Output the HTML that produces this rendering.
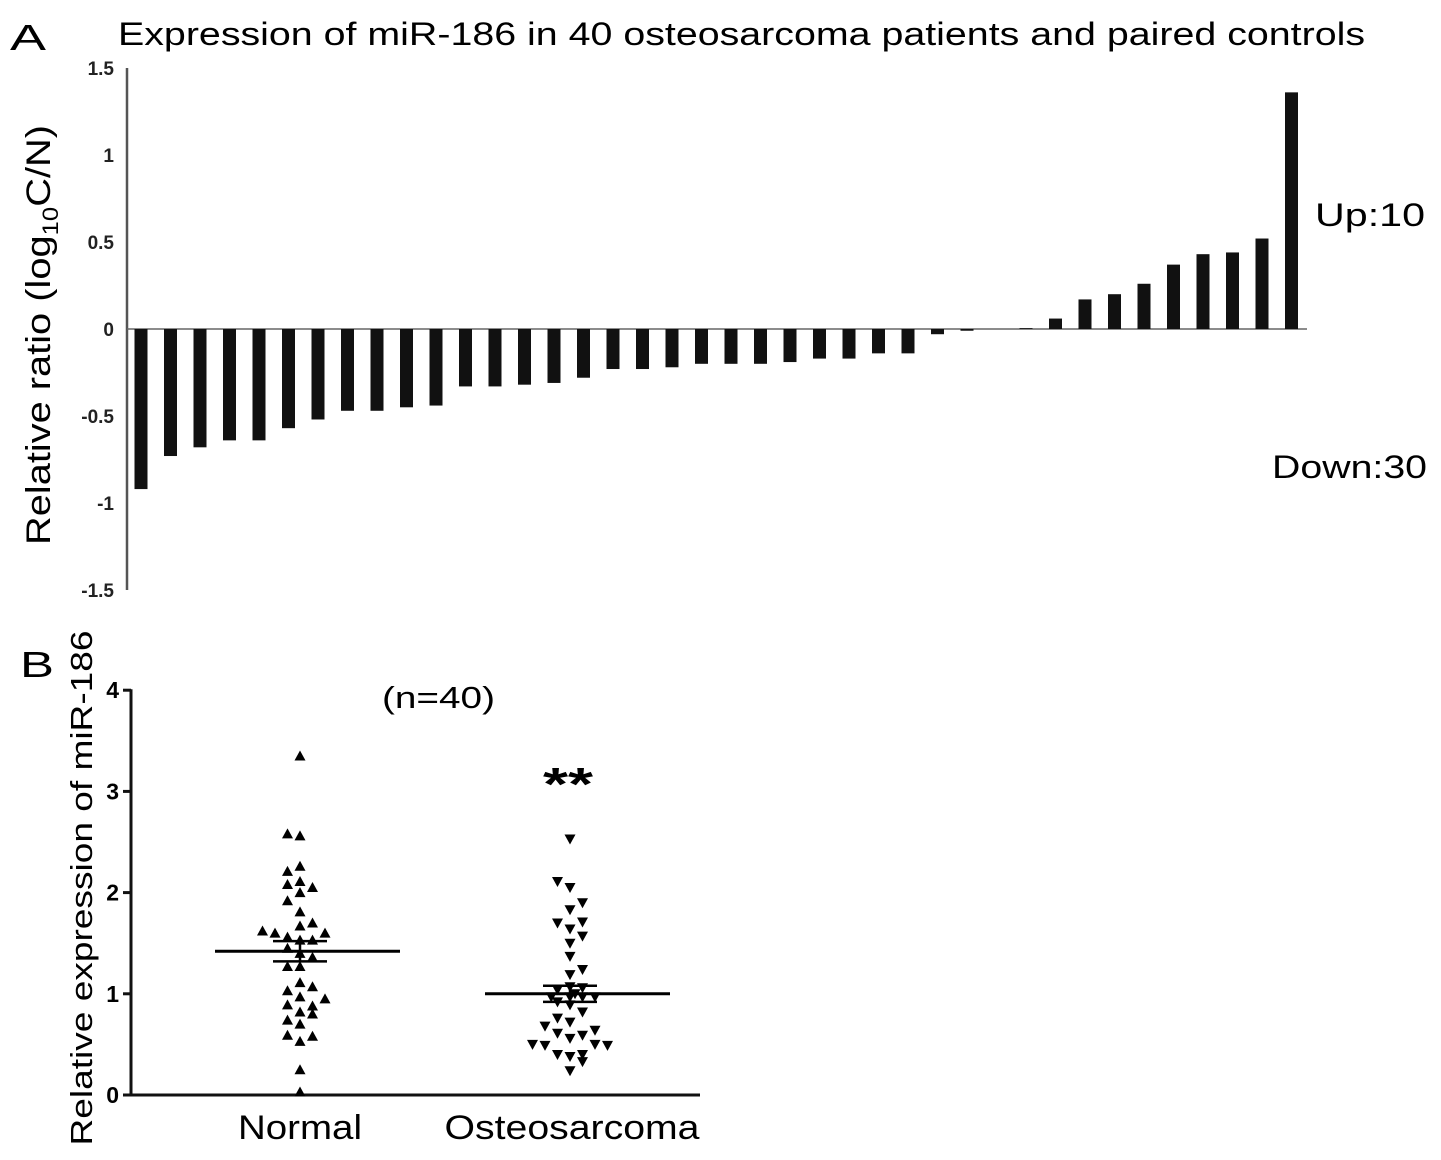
<!DOCTYPE html>
<html><head><meta charset="utf-8">
<style>
body{margin:0;background:#fff;}
svg{display:block;font-family:"Liberation Sans",Arial,sans-serif;}
</style></head>
<body>
<svg id="fig" width="1441" height="1160" viewBox="0 0 1441 1160" xmlns="http://www.w3.org/2000/svg">
<text x="10" y="50" font-size="36" textLength="36" lengthAdjust="spacingAndGlyphs">A</text>
<text x="118" y="45" font-size="32" textLength="1247" lengthAdjust="spacingAndGlyphs">Expression of miR-186 in 40 osteosarcoma patients and paired controls</text>
<text transform="translate(50,335) rotate(-90)" text-anchor="middle" font-size="34" textLength="420" lengthAdjust="spacingAndGlyphs">Relative ratio (log<tspan font-size="22" dy="8">10</tspan><tspan dy="-8">C/N)</tspan></text>
<text x="1315" y="226" font-size="32" textLength="110" lengthAdjust="spacingAndGlyphs">Up:10</text>
<text x="1272" y="478" font-size="32" textLength="155" lengthAdjust="spacingAndGlyphs">Down:30</text>
<g id="pa"></g>

<text x="20" y="677" font-size="36" textLength="34" lengthAdjust="spacingAndGlyphs">B</text>
<text transform="translate(92,888) rotate(-90)" text-anchor="middle" font-size="31" textLength="515" lengthAdjust="spacingAndGlyphs">Relative expression of miR-186</text>
<text x="382" y="708" font-size="31" textLength="113" lengthAdjust="spacingAndGlyphs">(n=40)</text>
<text x="543" y="800" font-size="46" font-weight="bold" textLength="50" lengthAdjust="spacingAndGlyphs">**</text>
<g id="pb"></g>
</svg>
<script>
const ratioValues=[-0.92,-0.73,-0.68,-0.64,-0.64,-0.57,-0.52,-0.47,-0.47,-0.45,-0.44,-0.33,-0.33,-0.32,-0.31,-0.28,-0.23,-0.23,-0.22,-0.2,-0.2,-0.2,-0.19,-0.17,-0.17,-0.14,-0.14,-0.03,-0.01,0,0.005,0.06,0.17,0.2,0.26,0.37,0.43,0.44,0.52,1.36];
const ratioTicks=[1.5,1,0.5,0,-0.5,-1,-1.5];
const groupNames=["Normal","Osteosarcoma"];
const normalValues=[3.35,2.58,2.56,2.26,2.21,2.11,2.08,2.05,2.0,1.92,1.81,1.67,1.70,1.62,1.60,1.56,1.60,1.53,1.53,1.45,1.40,1.27,1.27,1.36,1.11,1.07,1.03,0.97,0.95,0.89,0.88,0.82,0.80,0.74,0.70,0.59,0.53,0.58,0.25,0.03];
const normalJitter=[0,-1,0,0,-1,0,-1,1,0,-1,0,0,1,-3,-2,-1,2,1,0,-1,0,-1,0,1,0,1,-1,0,2,-1,1,0,1,-1,0,-1,0,1,0,0];
const osteoValues=[2.53,2.11,2.05,1.90,1.83,1.70,1.71,1.64,1.57,1.50,1.37,1.19,1.24,1.07,1.04,1.06,0.97,0.97,0.97,0.97,1.0,0.92,0.89,0.82,0.76,0.72,0.68,0.61,0.56,0.59,0.64,0.50,0.49,0.50,0.49,0.40,0.38,0.40,0.33,0.24];
const osteoJitter=[0,-1,0,1,0,-1,1,0,1,0,0,0,1,0,-1,1,-1.5,0,2,1,0.4,-1,0,1,-1,0,-2,-1,0,1,2,-3,-2,2,3,-1,0,1,1,0];
const groupMeans=[1.42,1.0];
const groupSem=[0.1,0.08];
const expTicks=[0,1,2,3,4];
const NS="http://www.w3.org/2000/svg";
function mk(p,t,a){const e=document.createElementNS(NS,t);for(const k in a)e.setAttribute(k,a[k]);p.appendChild(e);return e;}
// Panel A
const pa=document.getElementById('pa');
const yA=v=>329-v*174;
const xA=i=>141+i*29.5;
let e=mk(pa,'line',{x1:127,y1:yA(1.5),x2:127,y2:yA(-1.5),stroke:'#555','stroke-width':2.5});

e=mk(pa,'line',{x1:127,y1:yA(0),x2:1307,y2:yA(0),stroke:'#666','stroke-width':1.5});

ratioTicks.forEach(t=>{const tx=mk(pa,'text',{x:114,y:yA(t)+7,'text-anchor':'end','font-size':19,'font-weight':'bold',fill:'#222'});tx.textContent=String(t);
});
ratioValues.forEach((v,i)=>{const y0=yA(0),y1=yA(v);const r=mk(pa,'rect',{x:xA(i)-6.5,y:Math.min(y0,y1),width:13,height:Math.abs(y1-y0),fill:'#111'});
});
// Panel B
const pb=document.getElementById('pb');
const yB=v=>1095-v*101.2;
const xB=[300,570];
e=mk(pb,'line',{x1:131,y1:yB(4)-1,x2:131,y2:1096,stroke:'#111','stroke-width':3});

e=mk(pb,'line',{x1:130,y1:1095,x2:700,y2:1095,stroke:'#111','stroke-width':3});

expTicks.forEach(t=>{const l=mk(pb,'line',{x1:123,y1:yB(t),x2:131,y2:yB(t),stroke:'#111','stroke-width':3});

const tx=mk(pb,'text',{x:119,y:yB(t)+8,'text-anchor':'end','font-size':23,'font-weight':'bold'});tx.textContent=String(t);
});
const glen=[124,255];
groupNames.forEach((g,i)=>{const tx=mk(pb,'text',{x:xB[i]+(i?2:0),y:1139,'text-anchor':'middle','font-size':34,textLength:glen[i],lengthAdjust:'spacingAndGlyphs'});tx.textContent=g;
});
function tri(x,y,up){const s=5.5;return up?`M${x-s},${y+4.5} L${x+s},${y+4.5} L${x},${y-5.5} Z`:`M${x-s},${y-4.5} L${x+s},${y-4.5} L${x},${y+5.5} Z`;}
normalValues.forEach((v,i)=>{const p=mk(pb,'path',{d:tri(xB[0]+normalJitter[i]*12.5,yB(v),true),fill:'#000'});
});
osteoValues.forEach((v,i)=>{const p=mk(pb,'path',{d:tri(xB[1]+osteoJitter[i]*12.5,yB(v),false),fill:'#000'});
});
groupMeans.forEach((m,i)=>{const l=mk(pb,'line',{x1:xB[i]-85,y1:yB(m),x2:xB[i]+100,y2:yB(m),stroke:'#000','stroke-width':3});

[m-groupSem[i],m+groupSem[i]].forEach(s=>{const c=mk(pb,'line',{x1:xB[i]-27,y1:yB(s),x2:xB[i]+27,y2:yB(s),stroke:'#000','stroke-width':2.5});
});
const v=mk(pb,'line',{x1:xB[i],y1:yB(m-groupSem[i]),x2:xB[i],y2:yB(m+groupSem[i]),stroke:'#000','stroke-width':2.5});
});
</script>
</body></html>
